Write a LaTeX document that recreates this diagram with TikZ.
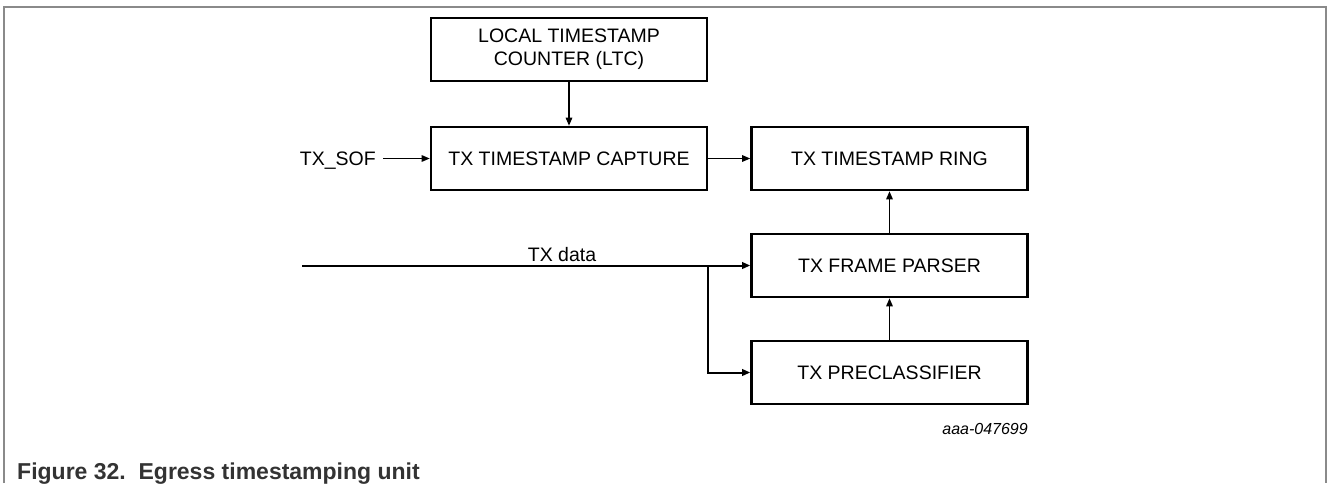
\documentclass[tikz,border=0pt]{standalone}
\usepackage{fontspec}
\setmainfont{Liberation Sans}
\usetikzlibrary{arrows.meta}
\definecolor{framecol}{HTML}{8A8A8A}
\definecolor{capcol}{HTML}{333333}
\begin{document}
\begin{tikzpicture}[x=1pt,y=-1pt,
  box/.style={draw, line width=2.6pt, minimum width=276pt, minimum height=63pt,
    inner sep=0pt, align=center, font=\fontsize{19.5}{23}\selectfont},
  lbl/.style={inner sep=0pt, font=\fontsize{19.5}{23}\selectfont},
  arr/.style={line width=1.3pt, -{Triangle[length=8pt,width=6.5pt]}},
  dataline/.style={line width=2pt, -{Triangle[length=8pt,width=6.5pt]}}]
\useasboundingbox (0,0) rectangle (1328,483);
\draw[framecol, line width=1.3pt] (4,483) -- (4,7) -- (1326,7) -- (1326,483);

\node[box] (ltc) at (569,49.5) {LOCAL TIMESTAMP\\COUNTER (LTC)};
\node[box] (cap) at (569,158.5) {TX TIMESTAMP CAPTURE};
\node[box] (ring) at (889.5,158.5) {TX TIMESTAMP RING};
\node[box] (parser) at (889.5,265.5) {TX FRAME PARSER};
\node[box] (pre) at (889.5,372.5) {TX PRECLASSIFIER};

\node[lbl, anchor=base east] (sof) at (376,165.5) {TX\_SOF};
\node[lbl, anchor=base] (data) at (562,261) {TX data};
\coordinate (dstart) at (302,265.5);
\coordinate (branch) at (708,265.5);

\draw[arr] (ltc.south) -- (cap.north);
\draw[arr] ([xshift=7pt,yshift=7pt]sof.base east) -- (cap.west);
\draw[arr] (cap.east) -- (ring.west);
\draw[arr] (parser.north) -- (ring.south);
\draw[arr] (pre.north) -- (parser.south);
\draw[dataline] (dstart) -- (parser.west);
\draw[dataline] (branch) |- (pre.west);

\node[inner sep=0pt, anchor=base east, font=\fontsize{16}{19}\selectfont\itshape] (id) at (1028,434) {aaa-047699};
\node[inner sep=0pt, anchor=base west, text=capcol, font=\fontsize{23}{27}\selectfont\bfseries] (caption) at (17,479) {Figure 32.\ \ Egress timestamping unit};
\end{tikzpicture}
\end{document}
